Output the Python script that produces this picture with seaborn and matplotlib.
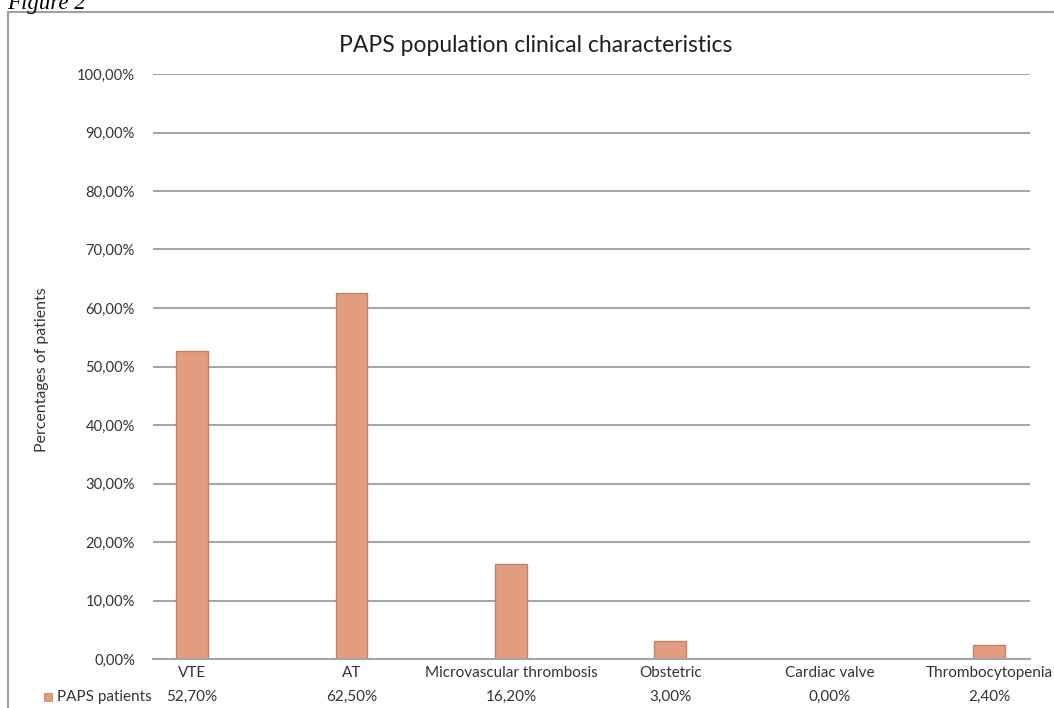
import matplotlib
matplotlib.use("Agg")
import matplotlib.pyplot as plt
from matplotlib.lines import Line2D
from matplotlib.ticker import FuncFormatter, MultipleLocator
import matplotlib.transforms as mtransforms
import seaborn as sns
import pandas as pd

# Clinical characteristics of the PAPS cohort (share of patients)
categories = ["VTE", "AT", "Microvascular thrombosis", "Obstetric",
              "Cardiac valve", "Thrombocytopenia"]
paps_patients = [52.70, 62.50, 16.20, 3.00, 0.00, 2.40]
series_name = "PAPS patients"
title = "PAPS population clinical characteristics"
y_label = "Percentages of patients"

sns.set_theme(style="white")
plt.rcParams["font.family"] = ["Lato", "DejaVu Sans"]

text_color = "#333333"
grid_color = "#A6A6A6"
bar_color = "#E29C7F"
bar_edge = "#BC8568"

df = pd.DataFrame({"category": categories, "value": paps_patients})

fig = plt.figure(figsize=(10.54, 7.08), dpi=100)
ax = fig.add_axes([153 / 1054, 1 - 659 / 708, (1030 - 153) / 1054, (659 - 74) / 708])

sns.barplot(data=df, x="category", y="value", color=bar_color, width=0.2,
            edgecolor=bar_edge, linewidth=1.0, saturation=1, ax=ax)

ax.set_ylim(0, 100)
ax.set_xlim(-0.245, 5.255)
ax.yaxis.set_major_locator(MultipleLocator(10))
ax.yaxis.set_major_formatter(FuncFormatter(lambda v, _: f"{v:.2f}%".replace(".", ",")))
ax.grid(axis="y", color=grid_color, linewidth=1.5)
ax.grid(axis="x", visible=False)
ax.set_axisbelow(True)

for side in ["left", "right", "top"]:
    ax.spines[side].set_visible(False)
ax.spines["bottom"].set_color(grid_color)
ax.spines["bottom"].set_linewidth(1.5)

ax.tick_params(axis="y", length=0, pad=13, labelsize=10.6, labelcolor=text_color)
ax.tick_params(axis="x", length=0, pad=5, labelsize=11, labelcolor=text_color)
ax.set_xlabel("")
ax.set_ylabel(y_label, fontsize=11.4, color=text_color, labelpad=0)
ax.yaxis.set_label_coords(-104 / 877, 0.494)

# Data table row beneath the category labels
trans = mtransforms.blended_transform_factory(ax.transData, fig.transFigure)
row_y = 1 - 697 / 708
for i, v in enumerate(paps_patients):
    ax.text(i, row_y, f"{v:.2f}%".replace(".", ","), transform=trans,
            ha="center", va="center", fontsize=11, color=text_color)
fig.text(57 / 1054, row_y, series_name, ha="left", va="center",
         fontsize=11, color=text_color)
fig.patches.append(plt.Rectangle((44 / 1054, row_y - 4 / 708), 8 / 1054, 8 / 708,
                                 transform=fig.transFigure, facecolor=bar_color,
                                 edgecolor=bar_edge, linewidth=0.6))

fig.text(536 / 1054, 1 - 45 / 708, title, ha="center", va="center",
         fontsize=16.5, color="#202020")

# Frame around the chart area and the caption above it
frame_color = "#A0A0A0"
fig.add_artist(Line2D([8 / 1054, 8 / 1054], [0, 1 - 12 / 708],
                      transform=fig.transFigure, color=frame_color, linewidth=1.5))
fig.add_artist(Line2D([8 / 1054, 1], [1 - 12 / 708, 1 - 12 / 708],
                      transform=fig.transFigure, color=frame_color, linewidth=1.5))
fig.text(7 / 1054, 1 - 9 / 708, "Figure 2", ha="left", va="baseline",
         fontsize=16.5, style="italic", family=["Liberation Serif", "DejaVu Serif"],
         color="black")

fig.savefig("out.png", dpi=100)
